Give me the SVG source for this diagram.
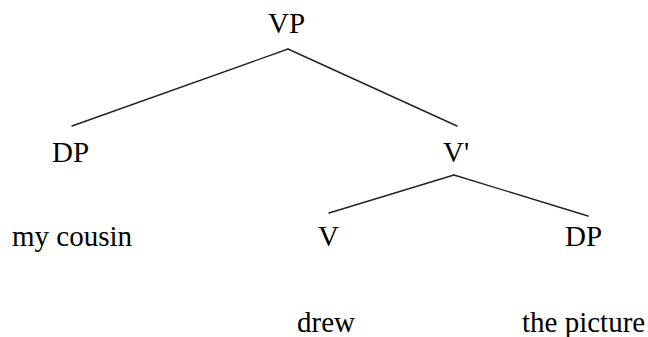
<svg xmlns="http://www.w3.org/2000/svg" width="648" height="337" viewBox="0 0 648 337">
<style>
.t{font-size:29px;fill:#000}
.e{stroke:#222;stroke-width:1.4;fill:none;stroke-linecap:round}
</style>
<rect width="648" height="337" fill="#fff"/>
<g id="connectors">
<line class="e" x1="288" y1="49" x2="72" y2="126"/>
<line class="e" x1="288" y1="49" x2="457" y2="126"/>
<line class="e" x1="454" y1="175" x2="329" y2="213"/>
<line class="e" x1="454" y1="175" x2="588" y2="216"/>
</g>
<g font-family="'Liberation Serif', 'Times New Roman', 'DejaVu Serif', serif" class="t">
<g id="vp"><text x="268" y="33">VP</text></g>
<g id="dp1"><text x="52" y="162">DP</text></g>
<g id="vbar"><text x="443" y="162">V'</text></g>
<g id="mycousin"><text x="12" y="246">my cousin</text></g>
<g id="v"><text x="318" y="246">V</text></g>
<g id="dp2"><text x="565" y="246">DP</text></g>
<g id="drew"><text x="297" y="332">drew</text></g>
<g id="thepicture"><text x="522" y="332">the picture</text></g>
</g>
</svg>
